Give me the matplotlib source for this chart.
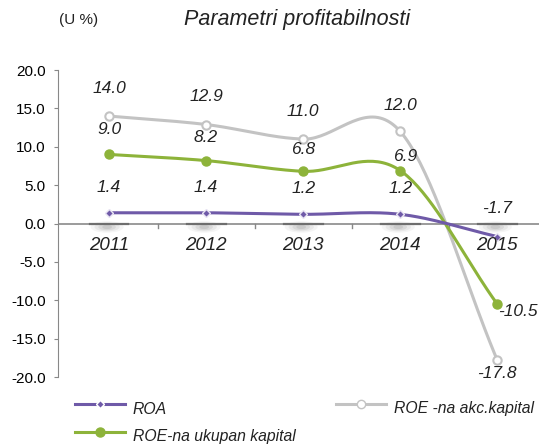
import numpy as np
import matplotlib
matplotlib.use("Agg")
import matplotlib.pyplot as plt
from matplotlib.lines import Line2D
from matplotlib.patches import Ellipse

years = ["2011", "2012", "2013", "2014", "2015"]
roa = [1.4, 1.4, 1.2, 1.2, -1.7]
roe_akc = [14.0, 12.9, 11.0, 12.0, -17.8]
roe_uk = [9.0, 8.2, 6.8, 6.9, -10.5]
yticks = [20.0, 15.0, 10.0, 5.0, 0.0, -5.0, -10.0, -15.0, -20.0]

plt.rcParams['font.family'] = ['Liberation Sans', 'DejaVu Sans']

C_ROA = '#6f5aa8'
C_AKC = '#c3c3c3'
C_UK = '#8db33a'
TXT = '#222222'


def smooth(xs, ys, n=40):
    """Catmull-Rom curve through the given points (drawing only)."""
    xs = np.asarray(xs, float); ys = np.asarray(ys, float)
    P = np.column_stack([xs, ys])
    P = np.vstack([P[0] - (P[1] - P[0]), P, P[-1] + (P[-1] - P[-2])])
    out = []
    for i in range(1, len(P) - 2):
        p0, p1, p2, p3 = P[i - 1], P[i], P[i + 1], P[i + 2]
        t = np.linspace(0, 1, n)[:, None]
        seg = 0.5 * ((2 * p1) + (-p0 + p2) * t + (2 * p0 - 5 * p1 + 4 * p2 - p3) * t ** 2
                     + (-p0 + 3 * p1 - 3 * p2 + p3) * t ** 3)
        out.append(seg)
    out = np.vstack(out)
    return out[:, 0], out[:, 1]


fig = plt.figure(figsize=(5.39, 4.46), dpi=100)
ax = fig.add_axes([58 / 539, 0.1547, 1 - 58 / 539, 0.843 - 0.1547])
x = np.arange(len(years))

ax.set_xlim(-0.526, 4.43)
ax.set_ylim(-20, 20)

# soft shadows just under the axis at each category
for i in x:
    for w, h, a in [(0.34, 1.5, 0.05), (0.26, 1.15, 0.07), (0.18, 0.85, 0.09), (0.1, 0.55, 0.1)]:
        ax.add_patch(Ellipse((i - 0.02, -0.45), w, h, facecolor='#444444', edgecolor='none',
                             alpha=a, zorder=1))

ax.axhline(0, color='#8a8a8a', lw=1.2, zorder=2)
for i in x:
    ax.plot([i - 0.2, i + 0.2], [0, 0], color='#6e6e6e', lw=1.6, zorder=2)
for b in [0.5, 1.5, 2.5, 3.5]:
    ax.plot([b, b], [0, -0.6], color='#888888', lw=1, zorder=2, clip_on=False)

series = [(roe_akc, C_AKC), (roe_uk, C_UK), (roa, C_ROA)]
for vals, c in series:
    sx, sy = smooth(x, vals)
    ax.plot(sx, sy, color=c, lw=2.2, zorder=3, solid_capstyle='round')

ax.plot(x, roe_akc, ls='none', marker='o', ms=6, mfc='white', mec=C_AKC, mew=1.5, zorder=4)
ax.plot(x, roe_uk, ls='none', marker='o', ms=6.5, mfc=C_UK, mec=C_UK, zorder=4)
ax.plot(x, roa, ls='none', marker='D', ms=4, mfc=C_ROA, mec='#e8e4f2', mew=1.0, zorder=5)

ax.set_yticks(yticks)
ax.set_yticklabels([f"{v:.1f}" for v in yticks], fontsize=11)
ax.tick_params(axis='y', length=3, color='#888888', pad=6)
ax.set_xticks([])
for s in ['top', 'right', 'bottom']:
    ax.spines[s].set_visible(False)
ax.spines['left'].set_color('#888888')

for i, yr in enumerate(years):
    ax.text(i, -2.85, yr, ha='center', va='center', fontsize=13.5, style='italic', color=TXT,
            zorder=6)

# data labels
akc_off = [(0, 3.6), (0, 3.6), (0, 3.6), (0, 3.4), (0, -1.8)]
uk_off = [(0, 3.3), (0, 3.0), (0, 2.9), (0.05, 1.8), (0.21, -1.0)]
roa_off = [(0, 3.3), (0, 3.3), (0, 3.3), (0, 3.3), (0, 3.6)]
for vals, offs in [(roe_akc, akc_off), (roe_uk, uk_off), (roa, roa_off)]:
    for i, (v, (dx, dy)) in enumerate(zip(vals, offs)):
        ax.text(i + dx, v + dy, f"{v:.1f}", ha='center', va='center', fontsize=12.5,
                style='italic', color=TXT, zorder=6, clip_on=False)

fig.text(297 / 539, 1 - 20 / 446, "Parametri profitabilnosti", ha='center', va='center',
         fontsize=15.5, style='italic', color=TXT)
fig.text(79 / 539, 1 - 20 / 446, "(U %)", ha='center', va='center', fontsize=11, color=TXT)

# legend
def leg(x0, y0, c, marker, mfc, mec, ms, label):
    fig.add_artist(Line2D([x0 / 539, (x0 + 50) / 539], [1 - y0 / 446] * 2, color=c, lw=2.2,
                          transform=fig.transFigure))
    fig.add_artist(Line2D([(x0 + 25) / 539], [1 - y0 / 446], marker=marker, ms=ms, mfc=mfc,
                          mec=mec, ls='none', transform=fig.transFigure))
    fig.text((x0 + 58) / 539, 1 - (y0 + 5) / 446, label, ha='left', va='center', fontsize=11.3,
             style='italic', color=TXT)

leg(75, 404, C_ROA, 'D', C_ROA, 'white', 4, "ROA")
leg(336, 404, C_AKC, 'o', 'white', C_AKC, 6, "ROE -na akc.kapital")
leg(75, 432, C_UK, 'o', C_UK, C_UK, 6.5, "ROE-na ukupan kapital")

fig.savefig("out.png", dpi=100)
